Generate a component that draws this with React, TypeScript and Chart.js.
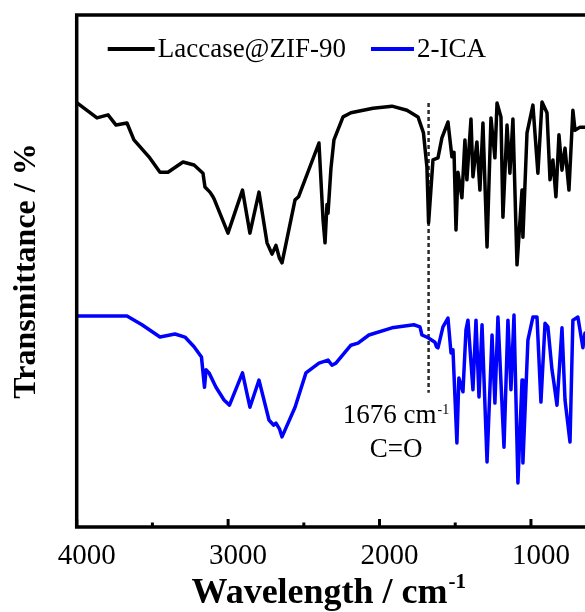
import React, { useEffect, useRef } from 'react';
import { Chart, registerables } from 'chart.js';

Chart.register(...registerables);

const FONT = "'Liberation Serif', 'Times New Roman', serif";

// Laccase@ZIF-90 spectrum (wavenumber cm-1, transmittance a.u.)
const laccaseWavenumbers = [
  4000, 3866, 3793, 3740, 3668, 3622, 3523, 3450, 3397, 3298, 3225, 3166, 3153, 3120, 3100, 3090,
  3001, 2905, 2856, 2796, 2743, 2710, 2684, 2661, 2644, 2558, 2535, 2400, 2373, 2360, 2347, 2340,
  2321, 2301, 2241, 2189, 2043, 1918, 1819, 1746, 1710, 1687, 1676, 1647, 1614, 1588, 1548, 1522,
  1508, 1495, 1482, 1456, 1436, 1423, 1396, 1383, 1357, 1337, 1317, 1290, 1264, 1238, 1224, 1198,
  1185, 1158, 1139, 1119, 1092, 1059, 1053, 1026, 987, 954, 927, 894, 874, 855, 835, 815,
  795, 775, 749, 723, 709, 676, 643, 600,
];
const laccaseTransmittance = [
  82.9, 79.9, 80.5, 78.5, 78.9, 75.6, 72.3, 69.3, 69.3, 71.3, 70.7, 69.1, 66.4, 65.4, 64.5, 63.9,
  57.4, 65.8, 57.4, 65.4, 55.5, 53.3, 55.0, 52.5, 51.6, 63.9, 64.5, 75.0, 60.0, 55.5, 63.0, 61.3,
  70.0, 75.6, 80.1, 80.9, 81.8, 82.2, 81.4, 80.1, 77.0, 70.3, 59.4, 71.7, 72.1, 76.0, 79.1, 72.3,
  73.2, 58.0, 69.3, 64.3, 75.6, 67.8, 79.7, 68.4, 75.2, 65.8, 78.9, 54.7, 79.9, 72.1, 82.8, 80.1,
  60.5, 78.5, 69.1, 79.7, 51.2, 65.8, 56.6, 77.0, 82.4, 69.1, 83.0, 80.9, 67.8, 71.7, 64.5, 76.6,
  69.7, 74.0, 65.8, 81.4, 77.5, 78.1, 78.1, 78.0,
];

// 2-ICA spectrum
const icaWavenumbers = [
  4000, 3668, 3569, 3450, 3351, 3285, 3225, 3176, 3156, 3146, 3126, 3080, 3027, 2991, 2905, 2856,
  2796, 2730, 2700, 2684, 2660, 2644, 2558, 2486, 2400, 2340, 2314, 2288, 2189, 2142, 2070, 1918,
  1773, 1733, 1720, 1687, 1634, 1624, 1614, 1581, 1548, 1528, 1515, 1489, 1476, 1449, 1429, 1416,
  1383, 1363, 1343, 1323, 1290, 1257, 1238, 1218, 1178, 1152, 1132, 1112, 1086, 1059, 1053, 1020,
  987, 960, 934, 907, 888, 861, 848, 828, 795, 775, 742, 723, 690, 657, 643, 600,
];
const icaTransmittance = [
  41.2, 41.2, 39.5, 37.1, 37.7, 37.1, 35.2, 33.2, 27.3, 30.7, 30.1, 27.3, 24.8, 23.8, 30.1, 23.4,
  28.7, 20.9, 19.9, 20.3, 19.1, 17.6, 23.4, 30.1, 32.0, 32.6, 31.6, 32.0, 35.5, 35.9, 37.5, 38.9,
  39.5, 39.1, 37.5, 37.1, 36.1, 35.2, 35.0, 39.1, 40.8, 34.0, 34.6, 16.4, 29.1, 26.4, 38.5, 40.4,
  26.8, 40.4, 25.4, 39.5, 12.7, 37.5, 24.2, 41.0, 15.6, 40.4, 26.8, 41.4, 8.6, 28.7, 12.5, 36.5,
  41.0, 41.0, 24.4, 39.8, 39.1, 30.7, 28.1, 23.8, 38.9, 24.8, 16.6, 40.4, 41.0, 35.0, 37.9, 38.0,
];

const seriesLabels = ['Laccase@ZIF-90', '2-ICA'];
const seriesColors = ['#000000', '#0000ff'];

const xTickValues = [4000, 3500, 3000, 2500, 2000, 1500, 1000];
const xTickLabels = ['4000', '', '3000', '', '2000', '', '1000'];
const xRange = [643, 4000];
const yRange = [0, 100];

const markerWavenumber = 1676;
const markerSpan = [26.2, 82.8];
const markerText = ['1676 cm', '-1'];
const markerText2 = 'C=O';
const markerTextAt = [1891, 20.3, 13.7];

const xTitle = ['Wavelength / cm', '-1'];
const yTitle = 'Transmittance / %';

const decorPlugin = {
  id: 'decor',
  beforeDatasetsDraw(chart: any) {
    const { ctx, scales } = chart;
    const x = scales.x;
    const y = scales.y;
    const px = x.getPixelForValue(markerWavenumber);
    ctx.save();
    ctx.strokeStyle = '#2a2a2a';
    ctx.lineWidth = 2.5;
    ctx.setLineDash([4, 3]);
    ctx.beginPath();
    ctx.moveTo(px, y.getPixelForValue(markerSpan[1]));
    ctx.lineTo(px, y.getPixelForValue(markerSpan[0]));
    ctx.stroke();
    ctx.restore();
  },
  afterDraw(chart: any) {
    const { ctx, chartArea: a, scales } = chart;
    const x = scales.x;
    const y = scales.y;
    ctx.save();
    // frame (left, top, bottom)
    ctx.strokeStyle = '#000';
    ctx.lineWidth = 3.5;
    ctx.lineJoin = 'miter';
    ctx.beginPath();
    ctx.moveTo(a.right + 10, a.top);
    ctx.lineTo(a.left, a.top);
    ctx.lineTo(a.left, a.bottom);
    ctx.lineTo(a.right + 10, a.bottom);
    ctx.stroke();
    // inward ticks
    ctx.lineWidth = 3;
    xTickValues.forEach((v, i) => {
      const tx = x.getPixelForValue(v);
      const len = xTickLabels[i] ? 8 : 4.5;
      ctx.beginPath();
      ctx.moveTo(tx, a.bottom);
      ctx.lineTo(tx, a.bottom - len);
      ctx.stroke();
    });

    // legend
    ctx.font = `27px ${FONT}`;
    ctx.textBaseline = 'alphabetic';
    ctx.textAlign = 'left';
    const ly = a.top + 34;
    const tb = a.top + 42;
    let lx = a.left + 31;
    seriesLabels.forEach((lab, i) => {
      const lw = i === 0 ? 47 : 43;
      ctx.strokeStyle = seriesColors[i];
      ctx.lineWidth = 3.8;
      ctx.beginPath();
      ctx.moveTo(lx, ly);
      ctx.lineTo(lx + lw, ly);
      ctx.stroke();
      ctx.fillStyle = '#000';
      ctx.fillText(lab, lx + lw + 3, tb);
      lx = lx + lw + 3 + ctx.measureText(lab).width + 25;
    });

    // annotation
    const cx = x.getPixelForValue(markerTextAt[0]);
    const b1 = y.getPixelForValue(markerTextAt[1]);
    const b2 = y.getPixelForValue(markerTextAt[2]);
    ctx.fillStyle = '#000';
    ctx.font = `27px ${FONT}`;
    const m1 = ctx.measureText(markerText[0]).width;
    ctx.font = `14px ${FONT}`;
    const m2 = ctx.measureText(markerText[1]).width;
    const sx = cx - (m1 + m2 + 1) / 2;
    ctx.font = `27px ${FONT}`;
    ctx.fillText(markerText[0], sx, b1);
    ctx.font = `14px ${FONT}`;
    ctx.fillText(markerText[1], sx + m1 + 1, b1 - 9);
    ctx.font = `27px ${FONT}`;
    ctx.textAlign = 'center';
    ctx.fillText(markerText2, cx, b2);

    // x title
    ctx.textAlign = 'left';
    ctx.font = `bold 36px ${FONT}`;
    const w1 = ctx.measureText(xTitle[0]).width;
    ctx.font = `bold 21px ${FONT}`;
    const w2 = ctx.measureText(xTitle[1]).width;
    const tcx = (a.left + a.right) / 2 - 2;
    const tsx = tcx - (w1 + w2 + 1) / 2;
    const tby = chart.height - 9;
    ctx.font = `bold 36px ${FONT}`;
    ctx.fillText(xTitle[0], tsx, tby);
    ctx.font = `bold 21px ${FONT}`;
    ctx.fillText(xTitle[1], tsx + w1 + 1, tby - 15);
    ctx.restore();
  },
};

export default function App() {
  const ref = useRef<HTMLCanvasElement | null>(null);
  useEffect(() => {
    if (!ref.current) return;
    const chart = new Chart(ref.current, {
      type: 'line',
      data: {
        datasets: [
          {
            label: seriesLabels[0],
            data: laccaseWavenumbers.map((w, i) => ({ x: w, y: laccaseTransmittance[i] })),
            borderColor: seriesColors[0],
            borderWidth: 3.5,
            pointRadius: 0,
            tension: 0,
            borderJoinStyle: 'round',
            borderCapStyle: 'round',
          },
          {
            label: seriesLabels[1],
            data: icaWavenumbers.map((w, i) => ({ x: w, y: icaTransmittance[i] })),
            borderColor: seriesColors[1],
            borderWidth: 3.5,
            pointRadius: 0,
            tension: 0,
            borderJoinStyle: 'round',
            borderCapStyle: 'round',
          },
        ],
      },
      options: {
        responsive: false,
        animation: false,
        devicePixelRatio: 1,
        layout: { padding: { top: 15, left: 0, right: 0, bottom: 0 } },
        plugins: { legend: { display: false }, tooltip: { enabled: false } },
        scales: {
          x: {
            type: 'linear',
            reverse: true,
            min: xRange[0],
            max: xRange[1],
            grid: { display: false, drawTicks: false },
            border: { display: false },
            afterBuildTicks: (s: any) => {
              s.ticks = xTickValues.map((v) => ({ value: v }));
            },
            afterFit: (s: any) => {
              s.height = 85;
            },
            ticks: {
              autoSkip: false,
              maxRotation: 0,
              padding: 12,
              labelOffset: 10,
              color: '#000',
              font: { family: FONT, size: 29 },
              callback: (v: any) => {
                const i = xTickValues.indexOf(Number(v));
                return i >= 0 ? xTickLabels[i] : '';
              },
            },
          },
          y: {
            min: yRange[0],
            max: yRange[1],
            grid: { display: false, drawTicks: false },
            border: { display: false },
            ticks: { display: false },
            afterFit: (s: any) => {
              s.width = 76.7;
            },
            title: {
              display: true,
              text: yTitle,
              color: '#000',
              font: { family: FONT, size: 32, weight: 'bold' },
              padding: { top: 8, bottom: 0 },
            },
          },
        },
      },
      plugins: [decorPlugin],
    } as any);
    return () => chart.destroy();
  }, []);
  return (
    <div style={{ position: 'absolute', left: 0, top: 0, width: 585, height: 612, overflow: 'hidden', background: '#fff' }}>
      <canvas ref={ref} width={585} height={612} style={{ display: 'block' }} />
    </div>
  );
}
